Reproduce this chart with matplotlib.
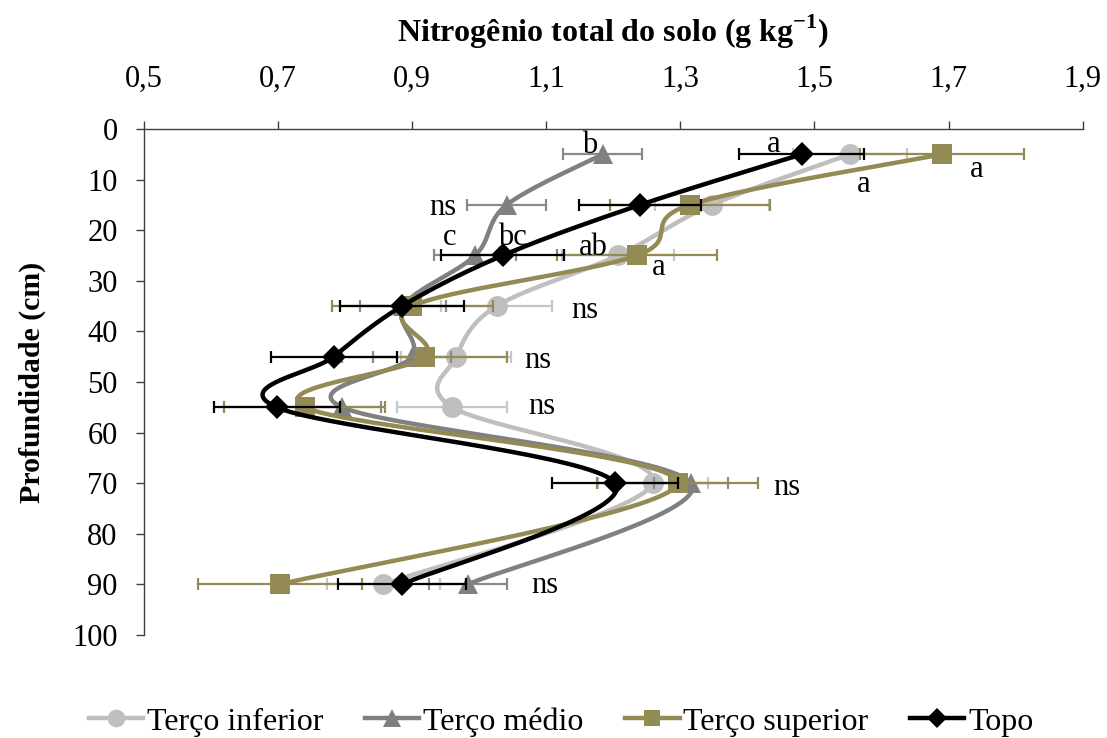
import numpy as np
import matplotlib
matplotlib.use("Agg")
import matplotlib.pyplot as plt
from matplotlib.ticker import FuncFormatter, FixedLocator, MultipleLocator
from matplotlib.lines import Line2D
from matplotlib.font_manager import FontProperties

# Depths (cm) and total soil nitrogen (g/kg) for each slope position
depth = [5, 15, 25, 35, 45, 55, 70, 90]

inferior = [1.553, 1.347, 1.207, 1.026, 0.966, 0.960, 1.259, 0.857]
medio = [1.184, 1.041, 0.994, 0.887, 0.900, 0.796, 1.316, 0.983]
superior = [1.690, 1.314, 1.235, 0.900, 0.919, 0.740, 1.296, 0.703]
topo = [1.481, 1.240, 1.035, 0.885, 0.783, 0.698, 1.203, 0.885]

err_inferior = [0.085, 0.085, 0.084, 0.083, 0.082, 0.082, 0.082, 0.084]
err_medio = [0.059, 0.059, 0.061, 0.064, 0.058, 0.058, 0.055, 0.058]
err_superior = [0.122, 0.119, 0.119, 0.12, 0.123, 0.12, 0.12, 0.122]
err_topo = [0.093, 0.091, 0.092, 0.092, 0.094, 0.094, 0.094, 0.095]

series_names = ["Terço inferior", "Terço médio", "Terço superior", "Topo"]

x_ticks = [0.5, 0.7, 0.9, 1.1, 1.3, 1.5, 1.7, 1.9]

# Significance letters: (text, x, depth)
annotations = [
    ("b", 1.153, 4.7), ("a", 1.429, 4.5), ("a", 1.563, 12.5), ("a", 1.732, 9.5),
    ("ns", 0.926, 17.0), ("c", 0.946, 22.9), ("bc", 1.028, 22.9),
    ("ab", 1.149, 24.9), ("a", 1.257, 28.9), ("ns", 1.138, 37.4),
    ("ns", 1.068, 47.2), ("ns", 1.073, 56.3), ("ns", 1.438, 72.3),
    ("ns", 1.078, 91.7),
]

plt.rcParams["font.family"] = ["Liberation Serif", "DejaVu Serif"]
plt.rcParams["mathtext.fontset"] = "custom"
plt.rcParams["mathtext.rm"] = "Liberation Serif"
plt.rcParams["mathtext.bf"] = "Liberation Serif:bold"

fig = plt.figure(figsize=(11.07, 7.38), dpi=100)
ax = fig.add_axes([0.130, 0.1396, 0.848, 0.6856])

ax.set_xlim(0.5, 1.9)
ax.set_ylim(100, 0)

ax.xaxis.tick_top()
ax.xaxis.set_label_position("top")
ax.xaxis.set_major_locator(FixedLocator(x_ticks))
ax.yaxis.set_major_locator(MultipleLocator(10))
ax.xaxis.set_major_formatter(FuncFormatter(lambda v, p: f"{v:.1f}".replace(".", ",")))
ax.yaxis.set_major_formatter(FuncFormatter(lambda v, p: f"{int(round(v))}"))

for s in ["right", "bottom"]:
    ax.spines[s].set_visible(False)
for s in ["left", "top"]:
    ax.spines[s].set_color("#404040")
    ax.spines[s].set_linewidth(1.0)

ax.tick_params(axis="x", direction="out", length=6, width=1, color="#404040",
               labelsize=22, pad=19)
ax.tick_params(axis="y", direction="out", length=6, width=1, color="#404040",
               labelsize=22, pad=13)

ax.set_xlabel(r"Nitrogênio total do solo (g kg$^{\mathbf{-1}}$)", fontsize=23,
              fontweight="bold", labelpad=17)
ax.set_ylabel("Profundidade (cm)", fontsize=21.5, fontweight="bold", labelpad=19)


def smooth_curve(ax, xs, ys, n=40):
    """Bezier smoothing (Catmull-Rom style) computed in display space."""
    pts = ax.transData.transform(np.column_stack([xs, ys]))
    P = np.vstack([pts[0], pts, pts[-1]])
    segs = []
    t = np.linspace(0, 1, n)[:, None]
    for i in range(1, len(P) - 2):
        p0, p1, p2, p3 = P[i - 1], P[i], P[i + 1], P[i + 2]
        c1 = p1 + (p2 - p0) / 6.0
        c2 = p2 - (p3 - p1) / 6.0
        seg = ((1 - t) ** 3) * p1 + 3 * ((1 - t) ** 2) * t * c1 \
            + 3 * (1 - t) * t ** 2 * c2 + t ** 3 * p2
        segs.append(seg if i == 1 else seg[1:])
    out = ax.transData.inverted().transform(np.vstack(segs))
    return out[:, 0], out[:, 1]


styles = [
    dict(values=inferior, err=err_inferior, color="#BFBFBF", ecolor="#C6C6C6",
         marker="o", ms=15),
    dict(values=medio, err=err_medio, color="#808080", ecolor="#8A8A8A",
         marker="^", ms=15),
    dict(values=superior, err=err_superior, color="#948A54", ecolor="#948A54",
         marker="s", ms=14),
    dict(values=topo, err=err_topo, color="#000000", ecolor="#000000",
         marker="D", ms=12.5),
]

handles = []
for k, (name, st) in enumerate(zip(series_names, styles)):
    z = 3 + k * 3
    ax.errorbar(st["values"], depth, xerr=st["err"], fmt="none",
                ecolor=st["ecolor"], elinewidth=1.6, capsize=4.5,
                capthick=1.6, zorder=z)
    sx, sy = smooth_curve(ax, st["values"], depth)
    ax.plot(sx, sy, color=st["color"], lw=3.2, solid_capstyle="round",
            zorder=z + 1)
    ax.plot(st["values"], depth, linestyle="none", marker=st["marker"],
            ms=st["ms"], color=st["color"], markeredgewidth=0, zorder=z + 2)
    handles.append(Line2D([], [], color=st["color"], lw=3.2,
                          marker=st["marker"], ms=st["ms"] * 0.85,
                          markeredgewidth=0, label=name))

for txt, x, y in annotations:
    ax.text(x, y, txt, fontsize=22, ha="left", va="baseline", zorder=20)

legend_font = FontProperties(family=["Liberation Serif", "DejaVu Serif"], size=23)
fig.legend(handles=handles, loc="center", bbox_to_anchor=(0.507, 0.022),
           ncol=4, frameon=False, prop=legend_font, handlelength=1.7,
           handletextpad=0.12, columnspacing=1.3)

fig.savefig("out.png", dpi=100)
